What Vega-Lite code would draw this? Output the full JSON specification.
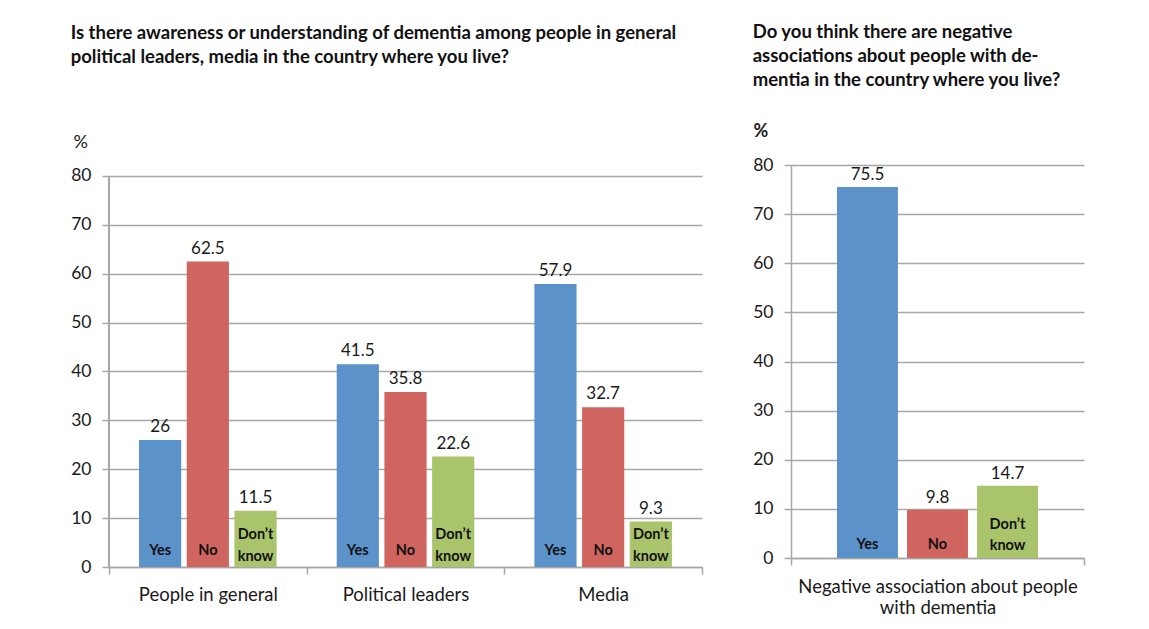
{
  "$schema": "https://vega.github.io/schema/vega-lite/v6.json",
  "background": "white",
  "padding": {"left": 70, "top": 22, "right": 10, "bottom": 5},
  "spacing": 49,
  "resolve": {"scale": {"x": "independent", "xOffset": "independent", "y": "independent"}},
  "config": {
    "font": "Lato",
    "view": {"stroke": null},
    "axis": {
      "labelFont": "Lato", "titleFont": "Lato",
      "labelColor": "#1a1a1a", "titleColor": "#1a1a1a",
      "domainColor": "#a6a6a6", "tickColor": "#a6a6a6", "gridColor": "#a6a6a6",
      "domainWidth": 1.5, "tickWidth": 1.5, "gridWidth": 1.5
    },
    "title": {"font": "Lato", "fontWeight": "bold", "fontSize": 18.5, "color": "#111111", "anchor": "start", "frame": "bounds", "lineHeight": 24}
  },
  "hconcat": [
    {
      "width": 593,
      "height": 402,
      "title": {
        "text": ["Is there awareness or understanding of dementia among people in general", "political leaders, media in the country where you live?"],
        "offset": 67,
        "dx": 0
      },
      "data": {"values": [
        {"group": "People in general", "resp": "Yes", "value": 26, "label": "26"},
        {"group": "People in general", "resp": "No", "value": 62.5, "label": "62.5"},
        {"group": "People in general", "resp": "Don’t know", "value": 11.5, "label": "11.5"},
        {"group": "Political leaders", "resp": "Yes", "value": 41.5, "label": "41.5"},
        {"group": "Political leaders", "resp": "No", "value": 35.8, "label": "35.8"},
        {"group": "Political leaders", "resp": "Don’t know", "value": 22.6, "label": "22.6"},
        {"group": "Media", "resp": "Yes", "value": 57.9, "label": "57.9"},
        {"group": "Media", "resp": "No", "value": 32.7, "label": "32.7"},
        {"group": "Media", "resp": "Don’t know", "value": 9.3, "label": "9.3"}
      ]},
      "layer": [
        {
          "mark": {"type": "bar"},
          "encoding": {
            "x": {
              "field": "group", "type": "nominal",
              "sort": ["People in general", "Political leaders", "Media"],
              "scale": {"paddingInner": 0, "paddingOuter": 0},
              "axis": {"title": null, "labelAngle": 0, "labelFontSize": 18.5, "labelPadding": 11, "tickBand": "extent", "tickSize": 7, "grid": false, "labelLimit": 400}
            },
            "xOffset": {
              "field": "resp", "type": "nominal",
              "sort": ["Yes", "No", "Don’t know"],
              "scale": {"paddingInner": 0.116, "paddingOuter": 0.63}
            },
            "y": {
              "field": "value", "type": "quantitative",
              "scale": {"domain": [0, 82.25], "nice": false},
              "axis": {
                "values": [0, 10, 20, 30, 40, 50, 60, 70, 80],
                "grid": true, "domain": false, "tickSize": 7, "labelPadding": 11, "labelFontSize": 17.5,
                "minExtent": 36, "maxExtent": 36,
                "title": "%", "titleAngle": 0, "titleAlign": "left", "titleBaseline": "middle",
                "titleX": -36, "titleY": -23, "titleFontSize": 18, "titleFontWeight": "normal"
              }
            },
            "color": {
              "field": "resp", "type": "nominal",
              "scale": {"domain": ["Yes", "No", "Don’t know"], "range": ["#5b92c9", "#d0655f", "#a9c46b"]},
              "legend": null
            }
          }
        },
        {
          "mark": {"type": "rule", "color": "#a6a6a6", "strokeWidth": 1.5},
          "encoding": {
            "x": {"datum": "People in general", "bandPosition": 0},
            "y": {"datum": 0},
            "y2": {"datum": 80}
          }
        },
        {
          "mark": {"type": "text", "baseline": "alphabetic", "dy": -8, "fontSize": 17, "color": "#1a1a1a"},
          "encoding": {
            "x": {"field": "group", "type": "nominal", "sort": ["People in general", "Political leaders", "Media"]},
            "xOffset": {"field": "resp", "type": "nominal", "sort": ["Yes", "No", "Don’t know"]},
            "y": {"field": "value", "type": "quantitative"},
            "text": {"field": "label", "type": "nominal"}
          }
        },
        {
          "transform": [{"filter": "datum.resp !== 'Don’t know'"}],
          "mark": {"type": "text", "baseline": "alphabetic", "fontSize": 14.5, "fontWeight": "bold", "color": "#111111"},
          "encoding": {
            "x": {"field": "group", "type": "nominal", "sort": ["People in general", "Political leaders", "Media"]},
            "xOffset": {"field": "resp", "type": "nominal", "sort": ["Yes", "No", "Don’t know"]},
            "y": {"datum": 2.45},
            "text": {"field": "resp", "type": "nominal"}
          }
        },
        {
          "transform": [{"filter": "datum.resp === 'Don’t know'"}],
          "mark": {"type": "text", "baseline": "alphabetic", "fontSize": 14.5, "fontWeight": "bold", "lineBreak": " ", "lineHeight": 22, "color": "#111111"},
          "encoding": {
            "x": {"field": "group", "type": "nominal", "sort": ["People in general", "Political leaders", "Media"]},
            "xOffset": {"field": "resp", "type": "nominal", "sort": ["Yes", "No", "Don’t know"]},
            "y": {"datum": 5.7},
            "text": {"field": "resp", "type": "nominal"}
          }
        }
      ]
    },
    {
      "width": 293,
      "height": 393,
      "title": {
        "text": ["Do you think there are negative", "associations about people with de-", "mentia in the country where you live?"],
        "offset": 33
      },
      "data": {"values": [
        {"group": "Negative association about people|with dementia", "resp": "Yes", "value": 75.5, "label": "75.5"},
        {"group": "Negative association about people|with dementia", "resp": "No", "value": 9.8, "label": "9.8"},
        {"group": "Negative association about people|with dementia", "resp": "Don’t know", "value": 14.7, "label": "14.7"}
      ]},
      "encoding": {
        "x": {
          "field": "group", "type": "nominal",
          "scale": {"paddingInner": 0, "paddingOuter": 0},
          "axis": {"title": null, "labelAngle": 0, "labelFontSize": 18.5, "labelPadding": 12, "tickBand": "extent", "tickSize": 7, "grid": false, "labelExpr": "split(datum.label, '|')", "labelLineHeight": 21, "labelLimit": 400}
        },
        "xOffset": {
          "field": "resp", "type": "nominal",
          "sort": ["Yes", "No", "Don’t know"],
          "scale": {"paddingInner": 0.13, "paddingOuter": 0.657}
        }
      },
      "layer": [
        {
          "mark": {"type": "bar"},
          "encoding": {
            "y": {
              "field": "value", "type": "quantitative",
              "scale": {"domain": [0, 80], "nice": false},
              "axis": {
                "values": [0, 10, 20, 30, 40, 50, 60, 70, 80],
                "grid": true, "tickSize": 7, "labelPadding": 11, "labelFontSize": 17.5,
                "minExtent": 36, "maxExtent": 36,
                "title": "%", "titleAngle": 0, "titleAlign": "left", "titleBaseline": "middle",
                "titleX": -38, "titleY": -34, "titleFontSize": 18, "titleFontWeight": "bold"
              }
            },
            "color": {
              "field": "resp", "type": "nominal",
              "scale": {"domain": ["Yes", "No", "Don’t know"], "range": ["#5b92c9", "#d0655f", "#a9c46b"]},
              "legend": null
            }
          }
        },
        {
          "mark": {"type": "text", "baseline": "alphabetic", "dy": -7, "fontSize": 17, "color": "#1a1a1a"},
          "encoding": {
            "y": {"field": "value", "type": "quantitative"},
            "text": {"field": "label", "type": "nominal"}
          }
        },
        {
          "transform": [{"filter": "datum.resp !== 'Don’t know'"}],
          "mark": {"type": "text", "baseline": "alphabetic", "fontSize": 14.5, "fontWeight": "bold", "color": "#111111"},
          "encoding": {
            "y": {"datum": 1.83},
            "text": {"field": "resp", "type": "nominal"}
          }
        },
        {
          "transform": [{"filter": "datum.resp === 'Don’t know'"}],
          "mark": {"type": "text", "baseline": "alphabetic", "fontSize": 14.5, "fontWeight": "bold", "lineBreak": " ", "lineHeight": 21, "color": "#111111"},
          "encoding": {
            "y": {"datum": 5.9},
            "text": {"field": "resp", "type": "nominal"}
          }
        }
      ]
    }
  ]
}
